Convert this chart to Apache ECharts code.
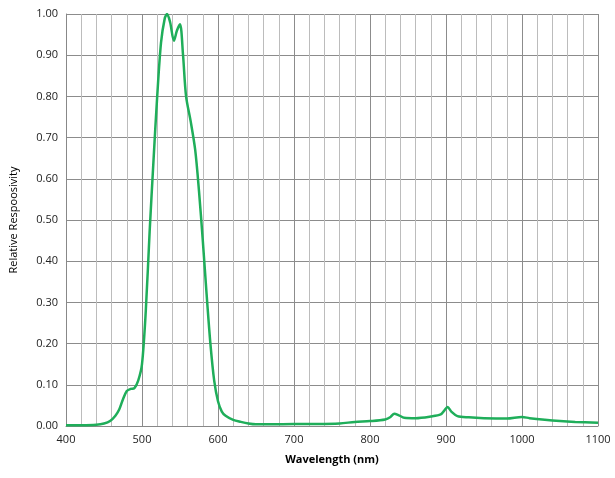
<!DOCTYPE html>
<html>
<head>
<meta charset="utf-8">
<script src="https://cdn.jsdelivr.net/npm/echarts@6/dist/echarts.min.js"></script>
<style>html,body{margin:0;padding:0;background:#fff}#main{width:615px;height:478px}</style>
</head>
<body>
<div id="main"></div>
<script>
var wavelength = [400,420,440,450,458,465,470,475,480,485,490,495,500,505,510,515,520,525,530,533,537,542,546,550,554,558,564,570,575,580,585,590,595,600,605,610,620,630,640,650,670,700,730,760,780,800,820,827,832,838,845,860,880,893,898,902,907,915,930,950,980,1000,1010,1030,1050,1070,1100];
var response = [0.002,0.002,0.003,0.006,0.012,0.025,0.04,0.065,0.085,0.09,0.092,0.11,0.15,0.28,0.47,0.64,0.80,0.93,0.99,1.0,0.98,0.935,0.96,0.975,0.9,0.80,0.74,0.67,0.57,0.45,0.32,0.2,0.11,0.06,0.035,0.025,0.015,0.01,0.006,0.004,0.004,0.005,0.005,0.006,0.01,0.012,0.016,0.022,0.03,0.026,0.02,0.019,0.023,0.028,0.038,0.046,0.035,0.024,0.021,0.019,0.018,0.022,0.019,0.015,0.012,0.01,0.008];
var yTicks = [0,0.1,0.2,0.3,0.4,0.5,0.6,0.7,0.8,0.9,1.0];

var chart = echarts.init(document.getElementById('main'));
var data = wavelength.map(function(w, i){ return [w, response[i]]; });
chart.setOption({
    animation: false,
    grid: {left: 66, right: 17, top: 14, bottom: 52, outerBoundsMode: 'none'},
    xAxis: {
        type: 'value', min: 400, max: 1100, interval: 20,
        name: 'Wavelength (nm)', nameLocation: 'middle', nameGap: 28,
        nameTextStyle: {fontFamily: 'Open Sans', fontWeight: 'bold', fontSize: 11, color: '#000'},
        axisLine: {lineStyle: {color: '#888'}},
        axisTick: {show: false},
        axisLabel: {fontFamily: 'Open Sans', fontSize: 11, color: '#222',
            formatter: function(v){ return v % 100 === 0 ? v : ''; }},
        splitLine: {lineStyle: {color: ['#8c8c8c','#bcbcbc','#bcbcbc','#bcbcbc','#bcbcbc'], width: 1}}
    },
    yAxis: {
        type: 'value', min: 0, max: 1, interval: 0.1,
        name: 'Relative Respoosivity', nameLocation: 'middle', nameGap: 47,
        nameTextStyle: {fontFamily: 'Open Sans', fontSize: 11, color: '#000'},
        axisLine: {show: true, lineStyle: {color: '#888'}},
        axisTick: {show: false},
        axisLabel: {fontFamily: 'Open Sans', fontSize: 11, color: '#222',
            formatter: function(v){ return v.toFixed(2); }},
        splitLine: {lineStyle: {color: '#8c8c8c', width: 1}}
    },
    series: [{
        type: 'line', data: data, smooth: 0.3, showSymbol: false,
        lineStyle: {color: '#1fae5a', width: 2.5}
    }]
});
</script>
</body>
</html>
